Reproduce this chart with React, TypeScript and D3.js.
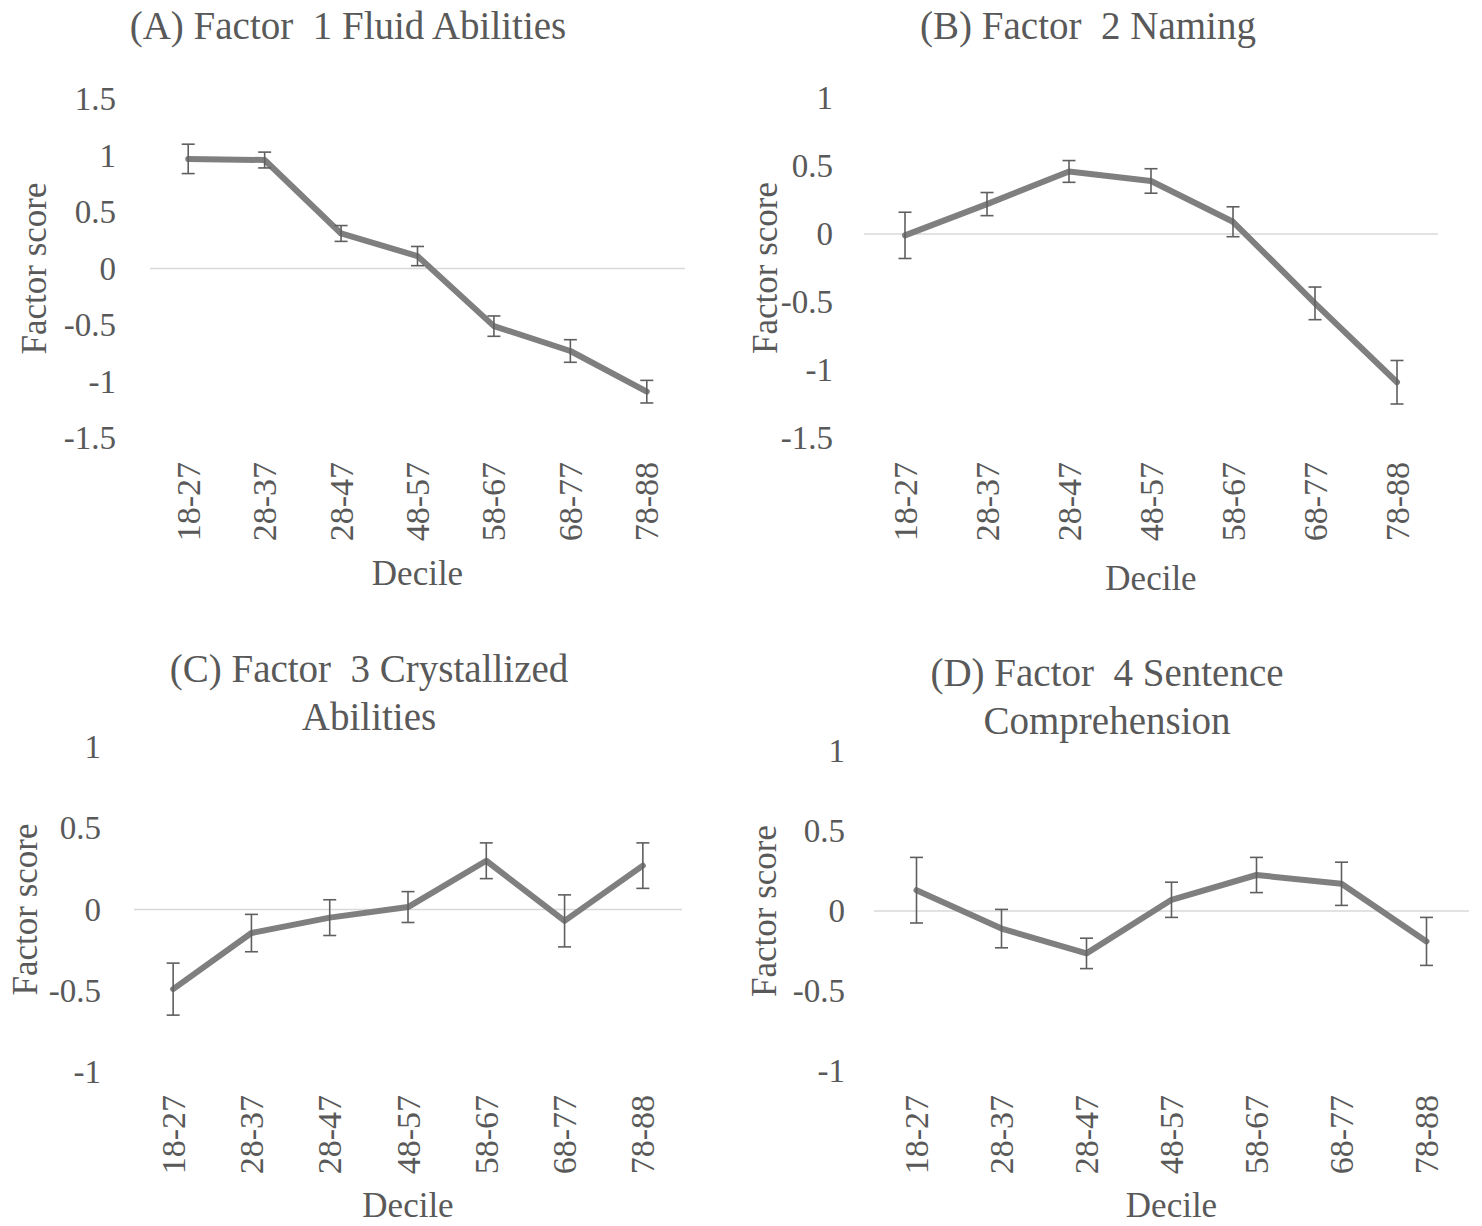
import * as d3 from 'd3';

const deciles = ['18-27', '28-37', '28-47', '48-57', '58-67', '68-77', '78-88'];

const fluidScores = [0.97, 0.96, 0.31, 0.11, -0.51, -0.73, -1.09];
const fluidErrors = [0.13, 0.07, 0.07, 0.085, 0.09, 0.1, 0.1];

const namingScores = [-0.01, 0.22, 0.46, 0.39, 0.09, -0.51, -1.09];
const namingErrors = [0.17, 0.085, 0.08, 0.09, 0.11, 0.12, 0.16];

const crystallizedScores = [-0.49, -0.145, -0.05, 0.015, 0.3, -0.07, 0.27];
const crystallizedErrors = [0.16, 0.115, 0.11, 0.095, 0.11, 0.16, 0.14];

const sentenceScores = [0.13, -0.11, -0.265, 0.07, 0.225, 0.17, -0.19];
const sentenceErrors = [0.205, 0.12, 0.095, 0.11, 0.11, 0.135, 0.15];

const ticksWide = [-1.5, -1, -0.5, 0, 0.5, 1, 1.5];
const ticksB = [-1.5, -1, -0.5, 0, 0.5, 1];
const ticksNarrow = [-1, -0.5, 0, 0.5, 1];

const W = 1482;
const H = 1226;
const FONT = '"Liberation Serif", "Times New Roman", serif';
const TEXT = '#595959';

type Panel = {
  title: string[];
  titleX: number;
  titleY: number;
  values: number[];
  errors: number[];
  ticks: number[];
  x0: number;
  x1: number;
  yTop: number;
  yBottom: number;
  tickRight: number;
  yLabelX: number;
  xLabelTop: number;
  decileY: number;
};

const panels: Panel[] = [
  {
    title: ['(A) Factor  1 Fluid Abilities'],
    titleX: 348, titleY: 39,
    values: fluidScores, errors: fluidErrors, ticks: ticksWide,
    x0: 150, x1: 685, yTop: 99, yBottom: 438,
    tickRight: 116, yLabelX: 46, xLabelTop: 462, decileY: 585,
  },
  {
    title: ['(B) Factor  2 Naming'],
    titleX: 1088, titleY: 39,
    values: namingScores, errors: namingErrors, ticks: ticksB,
    x0: 864, x1: 1438, yTop: 98, yBottom: 438,
    tickRight: 833, yLabelX: 777, xLabelTop: 462, decileY: 590,
  },
  {
    title: ['(C) Factor  3 Crystallized', 'Abilities'],
    titleX: 369, titleY: 682,
    values: crystallizedScores, errors: crystallizedErrors, ticks: ticksNarrow,
    x0: 134, x1: 682, yTop: 747, yBottom: 1072,
    tickRight: 101, yLabelX: 37, xLabelTop: 1095, decileY: 1217,
  },
  {
    title: ['(D) Factor  4 Sentence', 'Comprehension'],
    titleX: 1107, titleY: 686,
    values: sentenceScores, errors: sentenceErrors, ticks: ticksNarrow,
    x0: 874, x1: 1469, yTop: 751, yBottom: 1071,
    tickRight: 845, yLabelX: 776, xLabelTop: 1095, decileY: 1217,
  },
];

function ChartPanel({ p }: { p: Panel }) {
  const x = d3.scaleBand<string>().domain(deciles).range([p.x0, p.x1]).padding(0);
  const y = d3
    .scaleLinear()
    .domain([p.ticks[0], p.ticks[p.ticks.length - 1]])
    .range([p.yBottom, p.yTop]);
  const cx = (d: string) => (x(d) ?? 0) + x.bandwidth() / 2;

  const line = d3
    .line<number>()
    .x((_, i) => cx(deciles[i]))
    .y(v => y(v));

  const midX = (p.x0 + p.x1) / 2;
  const midY = (p.yTop + p.yBottom) / 2;

  return (
    <g fontFamily={FONT} fill={TEXT}>
      {p.title.map((t, i) => (
        <text key={t} x={p.titleX} y={p.titleY + i * 48} textAnchor="middle" fontSize={39} style={{ whiteSpace: 'pre' }}>
          {t}
        </text>
      ))}

      {/* zero line */}
      <line x1={p.x0} x2={p.x1} y1={y(0)} y2={y(0)} stroke="#d9d9d9" strokeWidth={1.3} />

      {p.ticks.map(t => (
        <text key={t} x={p.tickRight} y={y(t)} dy="0.34em" textAnchor="end" fontSize={33}>
          {d3.format('')(t).replace('−', '-')}
        </text>
      ))}

      <text
        transform={`translate(${p.yLabelX},${midY}) rotate(-90)`}
        textAnchor="middle"
        fontSize={35}
      >
        Factor score
      </text>

      {deciles.map(d => (
        <text
          key={d}
          transform={`translate(${cx(d) + 11.5},${p.xLabelTop}) rotate(-90)`}
          textAnchor="end"
          fontSize={34}
        >
          {d}
        </text>
      ))}

      <text x={midX} y={p.decileY} textAnchor="middle" fontSize={35}>
        Decile
      </text>

      <path d={line(p.values) ?? ''} fill="none" stroke="#7f7f7f" strokeWidth={6} strokeLinejoin="round" strokeLinecap="round" />

      {p.values.map((v, i) => {
        const px = cx(deciles[i]);
        const top = y(v + p.errors[i]);
        const bot = y(v - p.errors[i]);
        return (
          <g key={i} stroke="#5f5f5f" strokeWidth={1.6}>
            <line x1={px} x2={px} y1={top} y2={bot} />
            <line x1={px - 6.5} x2={px + 6.5} y1={top} y2={top} />
            <line x1={px - 6.5} x2={px + 6.5} y1={bot} y2={bot} />
          </g>
        );
      })}
    </g>
  );
}

export default function App() {
  return (
    <svg
      width={W}
      height={H}
      viewBox={`0 0 ${W} ${H}`}
      style={{ position: 'absolute', left: 0, top: 0, background: '#fff' }}
    >
      <rect width={W} height={H} fill="#fff" />
      {panels.map((p, i) => (
        <ChartPanel key={i} p={p} />
      ))}
    </svg>
  );
}
